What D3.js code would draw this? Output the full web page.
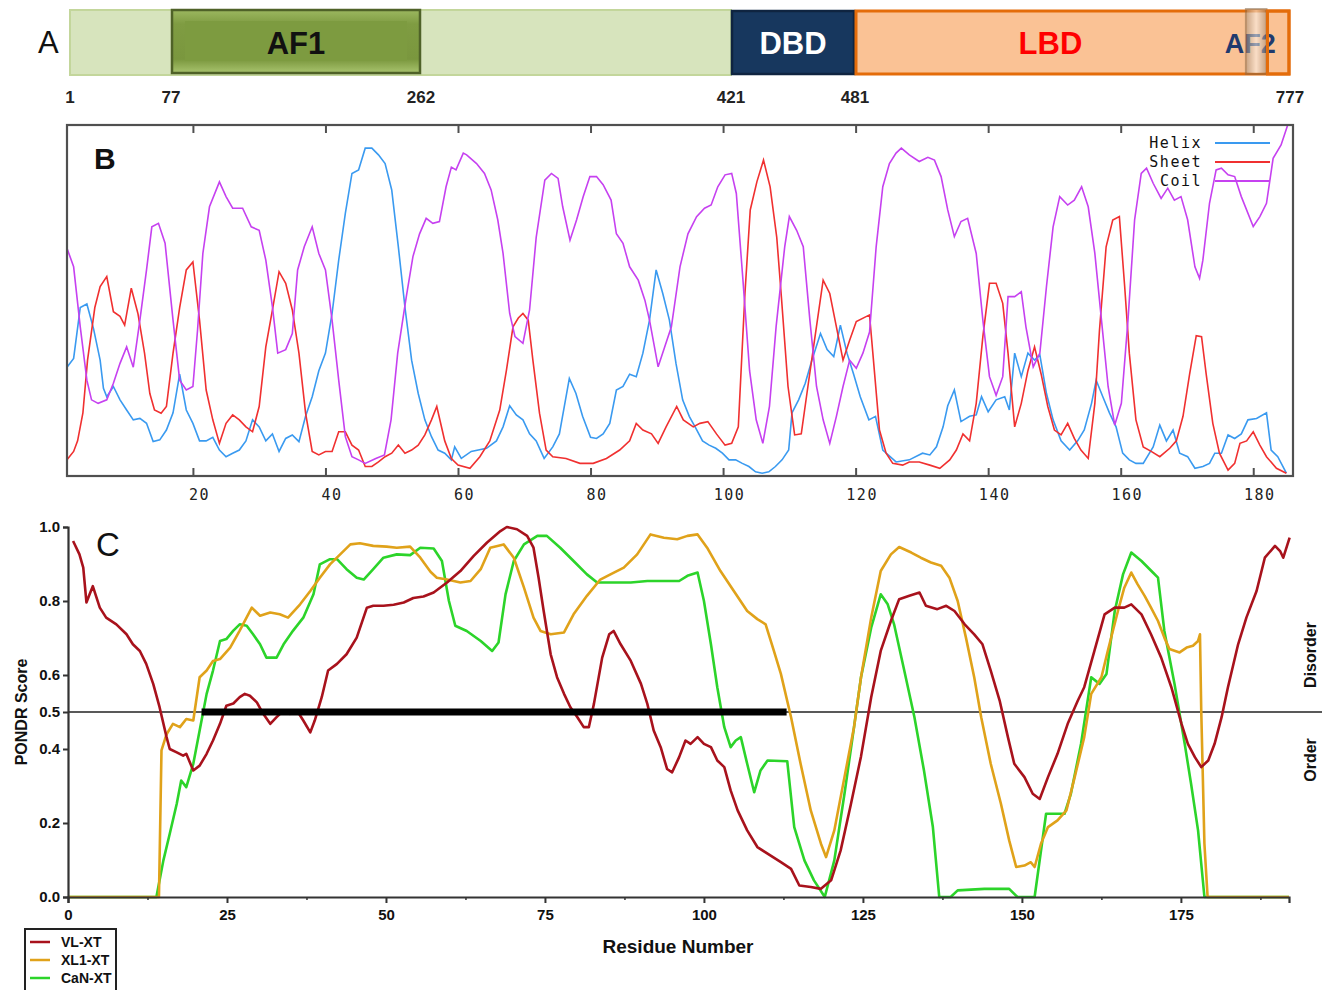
<!DOCTYPE html>
<html lang="en">
<head>
<meta charset="utf-8">
<title>Domains, secondary structure and disorder</title>
<script src="https://d3js.org/d3.v7.min.js"></script>
<style>
  body { margin: 0; background: #fff; }
  svg { display: block; font-family: "Liberation Sans", Arial, sans-serif; }
  .monoTick text { font-family: "DejaVu Sans Mono", "Liberation Mono", monospace; font-size: 15px; letter-spacing: 1.5px; fill: #222; }
</style>
</head>
<body>
<script>

// ---- Panel A: domain map (schematic, not to scale)
var domainBreaks = [1, 77, 262, 421, 481, 777];
var domains = [
  { name: "AF1", start: 77, end: 262 },
  { name: "DBD", start: 421, end: 481 },
  { name: "LBD", start: 481, end: 777 }
];
var af2 = { name: "AF2", start: 747, end: 761 };

// ---- Panel B: secondary structure prediction, [residue, probability]
var helix = [[1,0.31],[2,0.335],[3,0.48],[4,0.49],[5,0.42],[6,0.33],[6.5,0.25],[7,0.226],[8,0.255],[9,0.217],[10,0.188],[11,0.16],[12,0.164],[13,0.15],[14,0.098],[15,0.103],[16,0.131],[17,0.18],[18,0.29],[19,0.188],[20,0.15],[21,0.10],[22,0.10],[23,0.11],[24,0.074],[25,0.055],[26,0.065],[27,0.074],[28,0.10],[29,0.16],[30,0.14],[31,0.10],[32,0.12],[33,0.07],[34,0.107],[35,0.117],[36,0.098],[37,0.17],[38,0.226],[39,0.30],[40,0.35],[41,0.463],[42,0.615],[43,0.748],[44,0.862],[45,0.872],[46,0.934],[47,0.934],[48,0.915],[49,0.89],[50,0.815],[51,0.653],[52,0.48],[53,0.33],[54,0.235],[55,0.16],[56,0.112],[57,0.074],[58,0.065],[59,0.046],[59.5,0.083],[60.5,0.05],[62,0.07],[64.3,0.079],[65.8,0.10],[66.8,0.14],[67.8,0.20],[68.8,0.174],[69.8,0.16],[70.8,0.12],[71.8,0.10],[73,0.05],[74.3,0.083],[75.3,0.12],[76.8,0.278],[77.8,0.235],[78.8,0.17],[80,0.11],[80.9,0.107],[81.9,0.12],[82.9,0.15],[83.9,0.245],[84.9,0.255],[85.9,0.29],[86.9,0.283],[87.9,0.35],[88.9,0.444],[89.9,0.587],[90.9,0.52],[91.9,0.444],[92.9,0.32],[93.9,0.217],[94.9,0.17],[95.9,0.136],[96.9,0.10],[97.9,0.088],[98.9,0.079],[99.9,0.065],[100.9,0.046],[101.9,0.046],[102.9,0.036],[103.9,0.027],[104.9,0.012],[105.9,0.008],[106.9,0.012],[107.9,0.027],[108.9,0.046],[109.9,0.074],[110.4,0.18],[111.4,0.217],[112.4,0.264],[113.4,0.33],[114.7,0.406],[115.7,0.36],[116.7,0.34],[117.7,0.43],[118.7,0.35],[119.7,0.29],[120.7,0.226],[122,0.16],[123,0.17],[124.1,0.074],[126.1,0.04],[128.1,0.046],[130.1,0.065],[131.2,0.06],[132.2,0.083],[133.2,0.14],[133.9,0.2],[134.9,0.245],[135.9,0.155],[137.2,0.17],[138.2,0.174],[139,0.226],[140,0.183],[141.2,0.217],[142.5,0.226],[143.2,0.188],[144,0.35],[145,0.283],[146,0.35],[147,0.33],[147.8,0.345],[148.8,0.235],[149.8,0.16],[151,0.10],[152.3,0.074],[153.5,0.10],[154.5,0.131],[155.6,0.207],[156.3,0.273],[157.3,0.226],[158.3,0.18],[159.3,0.14],[160.3,0.065],[161.3,0.046],[162.3,0.036],[163.4,0.036],[164.9,0.083],[165.9,0.145],[166.9,0.10],[167.9,0.131],[168.9,0.065],[170.1,0.055],[171.2,0.022],[172.4,0.027],[173.4,0.036],[174.2,0.065],[175.2,0.065],[176.2,0.117],[177.2,0.107],[178.2,0.12],[179.2,0.16],[180.5,0.164],[182,0.18],[182.7,0.074],[183.7,0.055],[185,0.008]];

var sheet = [[1,0.046],[2,0.07],[2.6,0.10],[3.4,0.18],[4.1,0.33],[5.2,0.48],[6,0.54],[7,0.568],[8,0.468],[9,0.455],[9.7,0.43],[10.7,0.535],[11.7,0.463],[12.7,0.35],[13.5,0.235],[14.2,0.188],[15.2,0.179],[16,0.198],[17,0.35],[18,0.48],[19,0.587],[20,0.61],[21,0.444],[22,0.245],[23,0.16],[24,0.093],[25,0.15],[26,0.174],[27,0.16],[28,0.14],[29,0.126],[30,0.198],[31,0.368],[32,0.473],[33,0.582],[34,0.549],[35,0.473],[36,0.35],[37,0.179],[38,0.07],[39,0.06],[40,0.07],[41,0.07],[42,0.126],[43,0.126],[44,0.088],[45,0.074],[46,0.027],[47,0.027],[48,0.04],[49,0.055],[50,0.065],[51,0.088],[52,0.065],[53,0.074],[54,0.088],[55,0.117],[56,0.16],[56.8,0.198],[58,0.10],[59,0.05],[60,0.031],[61.8,0.022],[63.3,0.055],[64.8,0.10],[66.3,0.188],[67.3,0.30],[68.3,0.425],[69.1,0.45],[69.8,0.463],[70.6,0.444],[71.3,0.33],[72.3,0.179],[73.3,0.074],[74.3,0.055],[76.3,0.05],[78.4,0.036],[80.4,0.036],[82.4,0.05],[84.4,0.074],[85.9,0.10],[86.9,0.15],[87.9,0.131],[89.2,0.12],[90.2,0.093],[91.4,0.14],[93,0.198],[94,0.16],[95.5,0.14],[96.5,0.15],[97.7,0.155],[99,0.12],[100.3,0.088],[101.3,0.093],[102.3,0.14],[103.3,0.52],[104.1,0.758],[105.1,0.838],[106.1,0.90],[107.1,0.824],[108.1,0.68],[108.8,0.51],[109.8,0.255],[110.8,0.117],[111.8,0.12],[112.8,0.255],[113.8,0.387],[115.1,0.558],[116.1,0.52],[117.1,0.425],[118.1,0.33],[119.1,0.387],[120.1,0.44],[122.1,0.459],[122.6,0.35],[123.6,0.131],[124.6,0.065],[125.6,0.036],[127.1,0.031],[128.1,0.04],[129.6,0.04],[131.2,0.031],[132.7,0.022],[134.2,0.046],[135.2,0.074],[136.2,0.12],[137.2,0.10],[138.2,0.207],[139.2,0.397],[140.2,0.549],[141.2,0.549],[142.2,0.492],[143,0.35],[144,0.14],[145,0.207],[146,0.30],[147,0.368],[148,0.29],[149,0.198],[150,0.131],[151,0.117],[152,0.15],[153,0.107],[154,0.074],[155.1,0.05],[156.1,0.207],[156.8,0.416],[157.8,0.653],[158.8,0.729],[159.8,0.739],[160.6,0.54],[161.3,0.35],[162.3,0.16],[163.4,0.083],[164.6,0.07],[165.9,0.055],[167.4,0.079],[168.4,0.10],[169.4,0.17],[170.4,0.29],[171.4,0.40],[172.2,0.397],[172.9,0.29],[173.9,0.15],[174.9,0.065],[176.2,0.017],[177.2,0.036],[178,0.093],[179,0.10],[180,0.126],[181,0.088],[182,0.055],[183.5,0.022],[185,0.008]];

var coil = [[1,0.649],[2,0.596],[3,0.425],[4,0.273],[4.7,0.217],[5.7,0.207],[7,0.217],[8,0.264],[9,0.321],[10,0.368],[11,0.31],[12,0.444],[13,0.587],[13.8,0.71],[14.8,0.72],[15.8,0.663],[17,0.444],[18,0.273],[19,0.245],[20,0.255],[20.7,0.416],[21.5,0.634],[22.5,0.767],[24,0.838],[25,0.796],[26,0.763],[27.5,0.763],[28.8,0.71],[30,0.70],[31,0.615],[32,0.482],[32.8,0.35],[34,0.36],[35,0.406],[35.8,0.587],[36.8,0.653],[38,0.71],[39,0.634],[40,0.587],[41,0.444],[42,0.273],[43,0.112],[44,0.055],[45,0.046],[46,0.036],[47.6,0.05],[48.9,0.06],[49.9,0.16],[50.9,0.35],[52.2,0.511],[53.2,0.625],[54.2,0.69],[55.2,0.734],[56.2,0.72],[57.2,0.725],[58.2,0.824],[59,0.88],[59.7,0.872],[60.8,0.92],[61.3,0.915],[62.8,0.89],[64,0.862],[65,0.815],[66,0.73],[66.8,0.634],[67.8,0.463],[68.6,0.397],[69.8,0.378],[70.8,0.473],[71.8,0.68],[73.1,0.843],[74.1,0.862],[75.1,0.848],[75.8,0.767],[76.9,0.672],[77.9,0.73],[78.9,0.796],[79.9,0.853],[80.9,0.853],[81.9,0.83],[83.1,0.786],[83.9,0.69],[84.9,0.663],[85.9,0.596],[87.2,0.558],[88.2,0.501],[88.9,0.444],[90.2,0.311],[91.2,0.368],[92.2,0.425],[93.5,0.596],[94.7,0.69],[96,0.739],[97.2,0.763],[98.2,0.772],[99.2,0.824],[100.3,0.858],[101.3,0.862],[102,0.805],[103,0.558],[104,0.30],[105,0.16],[106,0.093],[107,0.198],[108,0.425],[109.3,0.653],[110,0.739],[111.1,0.70],[112.1,0.653],[113.1,0.444],[114.1,0.255],[115.1,0.16],[116.1,0.093],[117.1,0.17],[118.1,0.255],[119.1,0.33],[120.1,0.307],[121.1,0.35],[122.1,0.41],[123.1,0.653],[124.1,0.824],[125.1,0.89],[126.1,0.92],[126.9,0.934],[128.1,0.915],[129.6,0.896],[130.9,0.908],[131.9,0.90],[132.9,0.853],[133.9,0.758],[134.9,0.682],[135.9,0.725],[136.9,0.734],[138.2,0.634],[139.2,0.444],[140.2,0.283],[141.2,0.23],[142.2,0.283],[143,0.511],[144,0.511],[145,0.525],[145.7,0.425],[146.8,0.311],[147.8,0.35],[148.8,0.54],[149.8,0.71],[150.8,0.796],[152,0.772],[153,0.786],[154.1,0.824],[155.1,0.767],[156.1,0.634],[157.1,0.444],[158.1,0.255],[159.1,0.145],[160.1,0.207],[161.1,0.444],[162.1,0.73],[163.1,0.862],[163.9,0.877],[164.9,0.834],[166.1,0.791],[167.1,0.82],[168.1,0.786],[169.1,0.796],[170.1,0.73],[171.2,0.596],[171.9,0.563],[172.4,0.615],[173.4,0.777],[174.4,0.872],[175.2,0.877],[176.2,0.858],[177.2,0.853],[178.2,0.796],[180,0.711],[181,0.739],[182,0.777],[183,0.905],[184.2,0.943],[185.2,1.0]];

var ssTicks = [20, 40, 60, 80, 100, 120, 140, 160, 180];

// ---- Panel C: PONDR disorder scores, [residue, score]
var vlxt = [[0.8,0.962],[1.8,0.926],[2.4,0.89],[2.9,0.796],[3.4,0.818],[3.9,0.84],[5,0.782],[6,0.755],[7.6,0.737],[9.2,0.71],[10.2,0.683],[11.3,0.665],[12.3,0.63],[13.4,0.576],[14.4,0.513],[15.5,0.432],[16,0.40],[17.1,0.391],[18.1,0.382],[18.6,0.387],[19.7,0.342],[20.7,0.355],[21.8,0.387],[22.8,0.423],[23.9,0.468],[24.9,0.517],[26,0.523],[27,0.54],[27.8,0.549],[28.6,0.544],[29.7,0.526],[30.7,0.495],[31.8,0.468],[32.8,0.486],[33.9,0.504],[34.9,0.495],[36,0.504],[37,0.477],[38.1,0.445],[38.8,0.477],[39.9,0.54],[40.9,0.612],[42.3,0.63],[43.8,0.656],[45.4,0.701],[47,0.782],[48,0.787],[49.6,0.787],[51.2,0.79],[52.8,0.796],[54.3,0.808],[55.9,0.812],[57.5,0.823],[59.6,0.85],[61.7,0.881],[63.8,0.922],[65.9,0.958],[68,0.989],[69,1.0],[70.6,0.994],[72.2,0.976],[73.2,0.944],[74,0.863],[74.8,0.773],[75.9,0.656],[76.9,0.594],[78,0.549],[79,0.513],[80.1,0.486],[81.1,0.459],[81.9,0.459],[82.7,0.522],[84,0.647],[85.1,0.71],[85.8,0.719],[86.9,0.683],[88.5,0.638],[90.1,0.576],[91.1,0.522],[92.1,0.45],[93.2,0.405],[94.2,0.346],[95,0.337],[96.1,0.378],[97.1,0.423],[97.9,0.414],[99,0.432],[100,0.414],[101.1,0.405],[102.1,0.369],[103.2,0.351],[104.2,0.288],[105.3,0.234],[106.8,0.18],[108.4,0.135],[110,0.117],[112.1,0.094],[113.7,0.076],[115,0.031],[116.8,0.027],[118.4,0.022],[120,0.045],[121.5,0.126],[123.1,0.25],[124.7,0.38],[126.3,0.54],[127.8,0.665],[129.4,0.746],[130.7,0.805],[132.3,0.814],[133.9,0.823],[134.9,0.787],[136.7,0.778],[138.1,0.787],[139.4,0.773],[141,0.737],[142.5,0.71],[143.8,0.683],[145.1,0.612],[146.5,0.531],[147.8,0.432],[148.8,0.36],[150.4,0.324],[151.7,0.279],[152.8,0.265],[154.1,0.324],[155.6,0.387],[157.2,0.468],[158.8,0.531],[159.8,0.567],[161.4,0.665],[163,0.764],[164.6,0.782],[166.1,0.782],[167.2,0.791],[168.8,0.764],[170.3,0.71],[171.9,0.647],[173.5,0.567],[175.1,0.468],[176.1,0.414],[177.2,0.378],[178.2,0.351],[179.3,0.369],[180.3,0.414],[181.4,0.486],[182.4,0.567],[184,0.683],[185.3,0.755],[186.9,0.827],[188.2,0.917],[189.8,0.949],[190.6,0.935],[191.1,0.917],[192.1,0.971]];

var xl1xt = [[0,0],[14.3,0],[14.7,0.396],[15.5,0.44],[16.5,0.468],[17.6,0.459],[18.6,0.481],[19.7,0.477],[20.7,0.594],[21.8,0.612],[22.8,0.638],[23.9,0.643],[25.5,0.674],[27,0.72],[28.9,0.782],[30.2,0.76],[31.8,0.769],[33.3,0.764],[34.6,0.755],[36.5,0.791],[38.1,0.827],[39.6,0.863],[41.2,0.899],[42.8,0.926],[44.4,0.953],[45.9,0.956],[48,0.949],[50.1,0.947],[51.7,0.944],[53.8,0.947],[55.4,0.917],[57,0.879],[58,0.863],[59.6,0.858],[61.7,0.85],[63.3,0.854],[64.9,0.886],[66.4,0.944],[68.5,0.953],[70.1,0.917],[71.7,0.836],[73.2,0.755],[74.3,0.719],[75.9,0.71],[78,0.715],[79.5,0.764],[81.6,0.814],[83.7,0.858],[85.3,0.872],[87.4,0.89],[89.5,0.926],[91.6,0.98],[93.7,0.971],[95.8,0.967],[97.4,0.976],[99,0.98],[100.5,0.944],[102.6,0.881],[104.7,0.827],[106.8,0.773],[108.4,0.751],[109.7,0.737],[111,0.665],[112.1,0.603],[113.7,0.486],[115.2,0.36],[116.8,0.234],[118.4,0.144],[119.2,0.108],[120.5,0.18],[122.1,0.324],[123.6,0.459],[124.7,0.594],[126.3,0.755],[127.8,0.881],[129.4,0.926],[130.7,0.946],[132.6,0.931],[134.1,0.917],[135.7,0.904],[137.3,0.895],[138.6,0.863],[139.9,0.80],[141.2,0.701],[142.5,0.594],[143.6,0.486],[145.1,0.36],[146.7,0.252],[148,0.153],[149.1,0.081],[150.4,0.085],[151.4,0.094],[152,0.081],[153,0.144],[154.1,0.189],[155.6,0.207],[157,0.234],[158.3,0.324],[159.8,0.432],[160.9,0.549],[162.5,0.594],[163.5,0.665],[165.1,0.773],[166.1,0.836],[167.2,0.877],[168.2,0.845],[169.3,0.814],[170.3,0.782],[171.4,0.746],[172.4,0.701],[173.2,0.67],[174.8,0.661],[175.9,0.674],[176.9,0.679],[177.7,0.692],[178,0.71],[178.2,0.504],[178.7,0.144],[179.2,0],[192,0]];

var cannxt = [[0,0],[13.9,0],[15,0.099],[16,0.171],[17.1,0.252],[17.8,0.315],[18.6,0.297],[19.7,0.36],[20.7,0.45],[21.8,0.549],[22.8,0.612],[23.9,0.692],[24.9,0.697],[26,0.72],[27,0.737],[28.1,0.733],[29.1,0.71],[30.2,0.683],[31.2,0.647],[32.8,0.647],[33.9,0.683],[35.4,0.72],[37,0.755],[38.6,0.818],[39.6,0.899],[41.2,0.913],[42.3,0.913],[43.8,0.886],[45.4,0.863],[46.5,0.858],[48,0.886],[49.6,0.917],[51.7,0.926],[53.8,0.924],[55.4,0.944],[57.5,0.942],[58.8,0.908],[59.9,0.80],[60.9,0.733],[62.7,0.719],[64.9,0.692],[66.7,0.665],[67.7,0.688],[68.8,0.818],[70.1,0.908],[71.7,0.953],[73.8,0.976],[75.3,0.976],[77.4,0.944],[79.5,0.908],[81.6,0.872],[83.2,0.85],[85.8,0.85],[88.5,0.85],[91.1,0.854],[93.7,0.854],[96.1,0.854],[97.4,0.868],[99,0.877],[100,0.80],[101.1,0.683],[102.1,0.567],[103.2,0.459],[104.2,0.405],[105,0.423],[105.8,0.432],[106.8,0.36],[107.9,0.283],[108.9,0.342],[110,0.369],[113.1,0.367],[114.2,0.189],[115.8,0.099],[117.3,0.045],[119,0],[120.5,0.099],[122.1,0.279],[123.6,0.459],[124.7,0.594],[126.3,0.728],[127.8,0.818],[128.9,0.791],[129.9,0.737],[131.5,0.612],[133.1,0.486],[134.6,0.342],[136,0.189],[137,0],[138.8,0],[139.9,0.018],[144.1,0.022],[148,0.022],[149.3,0],[152,0],[153.8,0.225],[156.7,0.225],[157.7,0.279],[159.3,0.414],[160.9,0.594],[162.2,0.576],[163.3,0.603],[164.6,0.773],[165.9,0.872],[167.2,0.931],[168.8,0.908],[170.6,0.877],[171.4,0.863],[172.4,0.719],[174,0.576],[175.6,0.414],[176.6,0.306],[177.7,0.18],[178.7,0],[192,0]];

var pondrXTicks = [0, 25, 50, 75, 100, 125, 150, 175];
var pondrMinorTicks = [12.5, 37.5, 62.5, 87.5, 112.5, 137.5, 162.5, 187.5];
var pondrYTicks = [0, 0.2, 0.4, 0.5, 0.6, 0.8, 1.0];
var disorderRun = [21, 113];   // longest stretch above 0.5
var threshold = 0.5;

var W = 1324, H = 990;
var svg = d3.select("body").append("svg").attr("width", W).attr("height", H);
var defs = svg.append("defs");

// =============== Panel A =================
var xA = d3.scaleLinear().domain(domainBreaks).range([70, 171, 421, 731, 855, 1290]);
var aTop = 10, aBot = 75;

var g1 = defs.append("linearGradient").attr("id", "af1Grad").attr("x1", 0).attr("y1", 0).attr("x2", 0).attr("y2", 1);
g1.append("stop").attr("offset", "0%").attr("stop-color", "#9cb860");
g1.append("stop").attr("offset", "22%").attr("stop-color", "#7f9c42");
g1.append("stop").attr("offset", "78%").attr("stop-color", "#7a973e");
g1.append("stop").attr("offset", "100%").attr("stop-color", "#a9c46e");
var g2 = defs.append("linearGradient").attr("id", "af2Grad").attr("x1", 0).attr("y1", 0).attr("x2", 1).attr("y2", 0);
g2.append("stop").attr("offset", "0%").attr("stop-color", "#a08a74");
g2.append("stop").attr("offset", "50%").attr("stop-color", "#fbf6f0");
g2.append("stop").attr("offset", "100%").attr("stop-color", "#9c8670");

var gA = svg.append("g");
// full-length light bar
gA.append("rect")
  .attr("x", xA(1)).attr("y", aTop).attr("width", xA(421) - xA(1)).attr("height", aBot - aTop)
  .attr("fill", "#d7e4bd").attr("stroke", "#c3d69b").attr("stroke-width", 2);

var aColors = {
  AF1: { fill: "url(#af1Grad)", stroke: "#4f6228", text: "#111", size: 31 },
  DBD: { fill: "#17375e", stroke: "#0f2440", text: "#fff", size: 31 },
  LBD: { fill: "#fac295", stroke: "#e46c0a", text: "#ff0000", size: 31 }
};
domains.forEach(function(d) {
  var c = aColors[d.name];
  var x0 = xA(d.start), x1 = xA(d.end);
  var yy = d.name === "AF1" ? aTop - 1 : aTop;
  gA.append("rect")
    .attr("x", x0 + 1).attr("y", yy + 1).attr("width", x1 - x0 - 2).attr("height", aBot - aTop - 2)
    .attr("fill", c.fill).attr("stroke", c.stroke).attr("stroke-width", d.name === "LBD" ? 3 : 2.5);
  if (d.name === "AF1") {
    gA.append("rect")
      .attr("x", x0 + 14).attr("y", yy + 12).attr("width", x1 - x0 - 28).attr("height", aBot - aTop - 25)
      .attr("fill", "#7d9b40");
  }
  gA.append("text")
    .attr("x", d.name === "LBD" ? (x0 + xA(af2.start)) / 2 : (x0 + x1) / 2)
    .attr("y", (aTop + aBot) / 2 + 11)
    .attr("text-anchor", "middle")
    .style("font-size", c.size + "px")
    .style("font-weight", "bold")
    .style("fill", c.text)
    .text(d.name);
});
// AF2 text, then the small bevelled box over it
gA.append("text")
  .attr("x", (xA(af2.start) + xA(af2.end)) / 2 - 6)
  .attr("y", (aTop + aBot) / 2 + 10)
  .attr("text-anchor", "middle")
  .style("font-size", "27px").style("font-weight", "bold").style("fill", "#1f3a6e")
  .text(af2.name);
gA.append("rect")
  .attr("x", xA(af2.start)).attr("y", aTop - 1).attr("width", xA(af2.end) - xA(af2.start)).attr("height", aBot - aTop)
  .attr("fill", "url(#af2Grad)").attr("opacity", 0.55)
  .attr("stroke", "#8a6a48").attr("stroke-width", 2);
gA.append("rect")
  .attr("x", xA(af2.end) + 1).attr("y", aTop + 1).attr("width", xA(777) - xA(af2.end) - 2).attr("height", aBot - aTop - 2)
  .attr("fill", "none").attr("stroke", "#e46c0a").attr("stroke-width", 3);

gA.selectAll("text.brk")
  .data(domainBreaks)
  .enter().append("text")
  .attr("class", "brk")
  .attr("x", function(d) { return xA(d); })
  .attr("y", 103)
  .attr("text-anchor", "middle")
  .style("font-family", "'Liberation Sans Narrow', 'Arial Narrow', sans-serif")
  .style("font-weight", "bold").style("font-size", "17px").style("fill", "#222")
  .text(function(d) { return d; });

svg.append("text").attr("x", 38).attr("y", 53).style("font-size", "31px").style("fill", "#111").text("A");

// =============== Panel B =================
var xB = d3.scaleLinear().domain([1, 186]).range([67, 1293]);
var yB = d3.scaleLinear().domain([0, 1]).range([476, 125]);
var gB = svg.append("g");

var lineB = d3.line().x(function(d) { return xB(d[0]); }).y(function(d) { return yB(d[1]); });
var ssSeries = [
  { name: "Helix", data: helix, color: "#3a9af0" },
  { name: "Sheet", data: sheet, color: "#f03030" },
  { name: "Coil", data: coil, color: "#c641f0" }
];
gB.selectAll("path.ss")
  .data(ssSeries)
  .enter().append("path")
  .attr("class", "ss")
  .attr("d", function(d) { return lineB(d.data); })
  .attr("fill", "none")
  .attr("stroke", function(d) { return d.color; })
  .attr("stroke-width", 1.6);

gB.append("rect")
  .attr("x", xB(1)).attr("y", yB(1)).attr("width", xB(186) - xB(1)).attr("height", yB(0) - yB(1))
  .attr("fill", "none").attr("stroke", "#505050").attr("stroke-width", 2.2);

gB.append("g")
  .attr("class", "monoTick")
  .attr("transform", "translate(0," + yB(0) + ")")
  .call(d3.axisBottom(xB).tickValues(ssTicks).tickSizeInner(-8).tickSizeOuter(0).tickPadding(13))
  .call(function(g) {
    g.select(".domain").remove();
    g.selectAll("line").attr("stroke", "#505050").attr("stroke-width", 2);
    g.selectAll("text").attr("dx", 6);
  });
gB.append("g")
  .attr("transform", "translate(0," + yB(1) + ")")
  .call(d3.axisTop(xB).tickValues(ssTicks).tickSizeInner(-8).tickSizeOuter(0).tickFormat(""))
  .call(function(g) {
    g.select(".domain").remove();
    g.selectAll("line").attr("stroke", "#505050").attr("stroke-width", 2);
  });

// legend (top right)
var legB = gB.append("g").selectAll("g")
  .data(ssSeries)
  .enter().append("g")
  .attr("transform", function(d, i) { return "translate(0," + (143 + i * 19) + ")"; });
legB.append("text")
  .attr("x", 1202).attr("y", 5)
  .attr("text-anchor", "end")
  .style("font-family", "'DejaVu Sans Mono', monospace").style("font-size", "15px")
  .style("letter-spacing", "1.5px").style("fill", "#111")
  .text(function(d) { return d.name; });
legB.append("line")
  .attr("x1", 1215).attr("x2", 1270).attr("y1", 0).attr("y2", 0)
  .attr("stroke", function(d) { return d.color; }).attr("stroke-width", 1.8);

svg.append("text").attr("x", 94).attr("y", 169).style("font-size", "30px").style("font-weight", "bold").style("fill", "#111").text("B");

// =============== Panel C =================
var xC = d3.scaleLinear().domain([0, 192]).range([68, 1289]);
var yC = d3.scaleLinear().domain([0, 1]).range([897, 527]);
var gC = svg.append("g");

var lineC = d3.line().x(function(d) { return xC(d[0]); }).y(function(d) { return yC(d[1]); });
var pondrSeries = [
  { name: "VL-XT", data: vlxt, color: "#a8121c" },
  { name: "XL1-XT", data: xl1xt, color: "#e0a21a" },
  { name: "CaN-XT", data: cannxt, color: "#2cd42a" }
];

// threshold line and the long disordered stretch
gC.append("line")
  .attr("x1", xC(0)).attr("x2", 1322).attr("y1", yC(threshold)).attr("y2", yC(threshold))
  .attr("stroke", "#222").attr("stroke-width", 1.5);

// draw green, orange, then red on top
gC.selectAll("path.pondr")
  .data(pondrSeries.slice().reverse())
  .enter().append("path")
  .attr("class", "pondr")
  .attr("d", function(d) { return lineC(d.data); })
  .attr("fill", "none")
  .attr("stroke", function(d) { return d.color; })
  .attr("stroke-width", 2.6)
  .attr("stroke-linejoin", "round");

gC.append("line")
  .attr("x1", xC(disorderRun[0])).attr("x2", xC(disorderRun[1]))
  .attr("y1", yC(threshold)).attr("y2", yC(threshold))
  .attr("stroke", "#000").attr("stroke-width", 7);

// axes
gC.append("g")
  .attr("transform", "translate(0," + yC(0) + ")")
  .call(d3.axisBottom(xC).tickValues(pondrXTicks).tickSize(6).tickPadding(6).tickFormat(d3.format("d")))
  .call(function(g) {
    g.select(".domain").attr("stroke", "#333").attr("stroke-width", 2.2);
    g.selectAll("line").attr("stroke", "#333").attr("stroke-width", 2);
    g.selectAll("text").style("font-size", "15px").style("font-weight", "bold").style("fill", "#111");
  });
gC.append("g")
  .attr("transform", "translate(0," + yC(0) + ")")
  .call(d3.axisBottom(xC).tickValues(pondrMinorTicks).tickSize(3).tickFormat(""))
  .call(function(g) {
    g.select(".domain").remove();
    g.selectAll("line").attr("stroke", "#333").attr("stroke-width", 1.5);
  });
gC.append("g")
  .attr("transform", "translate(" + xC(0) + ",0)")
  .call(d3.axisLeft(yC).tickValues(pondrYTicks).tickSize(5).tickPadding(3).tickFormat(d3.format(".1f")))
  .call(function(g) {
    g.select(".domain").attr("stroke", "#333").attr("stroke-width", 2.2);
    g.selectAll("line").attr("stroke", "#333").attr("stroke-width", 2);
    g.selectAll("text").style("font-size", "15px").style("font-weight", "bold").style("fill", "#111");
  });

gC.append("text")
  .attr("transform", "translate(27," + 712 + ") rotate(-90)")
  .attr("text-anchor", "middle")
  .style("font-size", "16px").style("font-weight", "bold").style("fill", "#111")
  .text("PONDR Score");
gC.append("text")
  .attr("x", 678).attr("y", 953)
  .attr("text-anchor", "middle")
  .style("font-size", "19px").style("font-weight", "bold").style("fill", "#111")
  .text("Residue Number");
gC.append("text")
  .attr("transform", "translate(1316,655) rotate(-90)")
  .attr("text-anchor", "middle")
  .style("font-size", "16px").style("font-weight", "bold").style("fill", "#111")
  .text("Disorder");
gC.append("text")
  .attr("transform", "translate(1316,760) rotate(-90)")
  .attr("text-anchor", "middle")
  .style("font-size", "16px").style("font-weight", "bold").style("fill", "#111")
  .text("Order");

svg.append("text").attr("x", 96).attr("y", 556).style("font-size", "33px").style("fill", "#111").text("C");

// legend (bottom left)
var legC = svg.append("g");
legC.append("rect")
  .attr("x", 25).attr("y", 929).attr("width", 91).attr("height", 62)
  .attr("fill", "#fff").attr("stroke", "#222").attr("stroke-width", 2);
var legItems = legC.selectAll("g")
  .data(pondrSeries)
  .enter().append("g")
  .attr("transform", function(d, i) { return "translate(0," + (942 + i * 18) + ")"; });
legItems.append("line")
  .attr("x1", 30).attr("x2", 50).attr("y1", 0).attr("y2", 0)
  .attr("stroke", function(d) { return d.color; }).attr("stroke-width", 2.5);
legItems.append("text")
  .attr("x", 61).attr("y", 5)
  .style("font-family", "'Liberation Sans Narrow', 'Arial Narrow', sans-serif")
  .style("font-size", "14px").style("font-weight", "bold").style("fill", "#111")
  .text(function(d) { return d.name; });

</script>
</body>
</html>
